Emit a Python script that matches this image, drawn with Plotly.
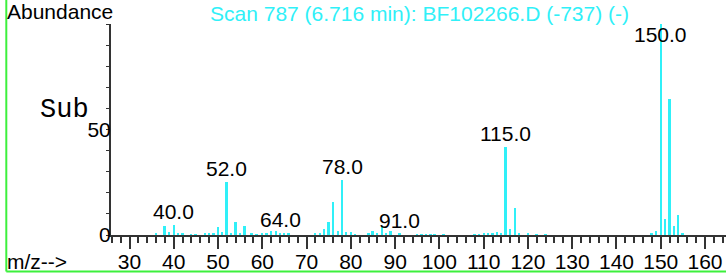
import plotly.graph_objects as go

# ---- data ----
mz = [36, 38, 39, 40, 41, 42, 44, 45, 47, 48, 49, 50, 51, 52, 53, 54, 55, 56, 57.6, 58.7,
      60, 61, 62, 63, 64, 65, 66, 72, 73, 74, 75, 76, 77, 78, 79, 80, 81, 84, 85, 86,
      87, 88, 89, 91, 95, 96, 97, 98, 99, 101, 108, 109, 110, 111, 112, 113, 114, 115, 116, 117,
      118, 120, 122, 124, 148, 149, 150, 151, 152, 153, 154, 155]
abundance = [0.8, 4.1, 1.2, 4.6, 0.8, 0.8, 0.3, 0.3, 0.8, 0.6, 1.0, 4.0, 1.3, 25.0, 0.8, 6.0, 0.8, 4.1, 0.8, 0.4,
             0.5, 0.7, 1.9, 1.7, 1.1, 1.1, 1.1, 0.5, 0.8, 2.8, 6.0, 15.5, 1.8, 26.1, 1.6, 1.6, 0.4, 0.5, 1.7, 0.8,
             4.5, 0.8, 1.7, 0.5, 0.3, 0.3, 0.3, 0.4, 0.4, 0.3, 0.4, 0.4, 0.5, 0.8, 0.5, 1.5, 1.0, 41.6, 2.7, 12.7,
             1.0, 0.5, 0.4, 0.4, 0.5, 1.9, 100.0, 7.6, 64.3, 4.3, 9.5, 0.8]
label_mz = [40, 52, 64, 78, 91, 115, 150]
label_text = ["40.0", "52.0", "64.0", "78.0", "91.0", "115.0", "150.0"]
x_tick_vals = [30, 40, 50, 60, 70, 80, 90, 100, 110, 120, 130, 140, 150, 160]
y_tick_vals = [0, 50]
title_text = "Scan 787 (6.716 min): BF102266.D (-737) (-)"

# ---- style ----
W, H = 726, 273
L, R, T, B = 111, 0, 24, 38
PW, PH = W - L - R, H - T - B
CYAN = "#30F0F8"
GREEN = "#3CF03C"
AX = "#333333"
FONT = "Liberation Sans, Arial, sans-serif"
MONO = "Courier New, Courier, Nimbus Mono PS, FreeMono, Liberation Mono, monospace"
FS = 21
LABEL_MAX = 88.5

def px_x(p):
    return (p - L) / PW

def px_y(p):
    return (H - B - p) / PH

height_of = dict(zip(mz, abundance))

fig = go.Figure()
fig.add_trace(go.Bar(x=mz, y=abundance, width=0.45,
                     marker=dict(color=CYAN, line=dict(width=0)),
                     hoverinfo="skip"))

annotations = []
for m, t in zip(label_mz, label_text):
    annotations.append(dict(x=m, y=min(height_of.get(m, 0), LABEL_MAX), xref="x", yref="y",
                            text=t, showarrow=False, xanchor="center", yanchor="bottom",
                            font=dict(family=FONT, size=FS, color="black")))

annotations += [
    dict(x=px_x(5), y=px_y(11.5), xref="paper", yref="paper", text="Abundance", showarrow=False,
         xanchor="left", yanchor="middle", font=dict(family=FONT, size=FS, color="black")),
    dict(x=px_x(419.5), y=px_y(13), xref="paper", yref="paper", text=title_text, showarrow=False,
         xanchor="center", yanchor="middle", font=dict(family=FONT, size=FS, color=CYAN)),
    dict(x=px_x(5), y=px_y(261), xref="paper", yref="paper", text="m/z-->", showarrow=False,
         xanchor="left", yanchor="middle", font=dict(family=FONT, size=FS, color="black")),
    dict(x=px_x(38), y=px_y(110), xref="paper", yref="paper", text="Sub", showarrow=False,
         xanchor="left", yanchor="middle", font=dict(family=MONO, size=27, color="black")),
]

shapes = [
    dict(type="line", xref="paper", yref="paper", x0=px_x(6.3), x1=px_x(6.3), y0=px_y(-10), y1=px_y(271.5),
         line=dict(color=GREEN, width=2)),
    dict(type="line", xref="paper", yref="paper", x0=px_x(6.3), x1=px_x(760), y0=px_y(271.5), y1=px_y(271.5),
         line=dict(color=GREEN, width=2)),
]

px_per_unit = 4.427
x0 = 30 - (129.5 - L) / px_per_unit
x1 = x0 + PW / px_per_unit

fig.update_layout(
    width=W, height=H,
    margin=dict(l=L, r=R, t=T, b=B, pad=0),
    paper_bgcolor="white", plot_bgcolor="white",
    showlegend=False, bargap=0,
    annotations=annotations, shapes=shapes,
    xaxis=dict(range=[x0, x1], showgrid=False, zeroline=False, showline=True, linecolor=AX, linewidth=2,
               tickmode="array", tickvals=x_tick_vals, ticks="outside", ticklen=12, tickwidth=1.5,
               tickcolor=AX, tickfont=dict(family=FONT, size=FS, color="black"), ticklabelstandoff=-5,
               minor=dict(dtick=2, tick0=0, ticks="outside", ticklen=6, tickwidth=1.5, tickcolor=AX)),
    yaxis=dict(range=[0, 100], showgrid=False, zeroline=False, showline=True, linecolor=AX, linewidth=2,
               tickmode="array", tickvals=y_tick_vals, ticks="outside", ticklen=3, tickwidth=1,
               tickcolor=AX, tickfont=dict(family=FONT, size=FS, color="black"), ticklabelstandoff=-9,
               minor=dict(dtick=10, tick0=0, ticks="outside", ticklen=3, tickwidth=1, tickcolor=AX)),
)

fig.write_html("out.html", config={"displayModeBar": False},
               post_script="document.body.style.margin='0';document.body.style.overflow='hidden';")
